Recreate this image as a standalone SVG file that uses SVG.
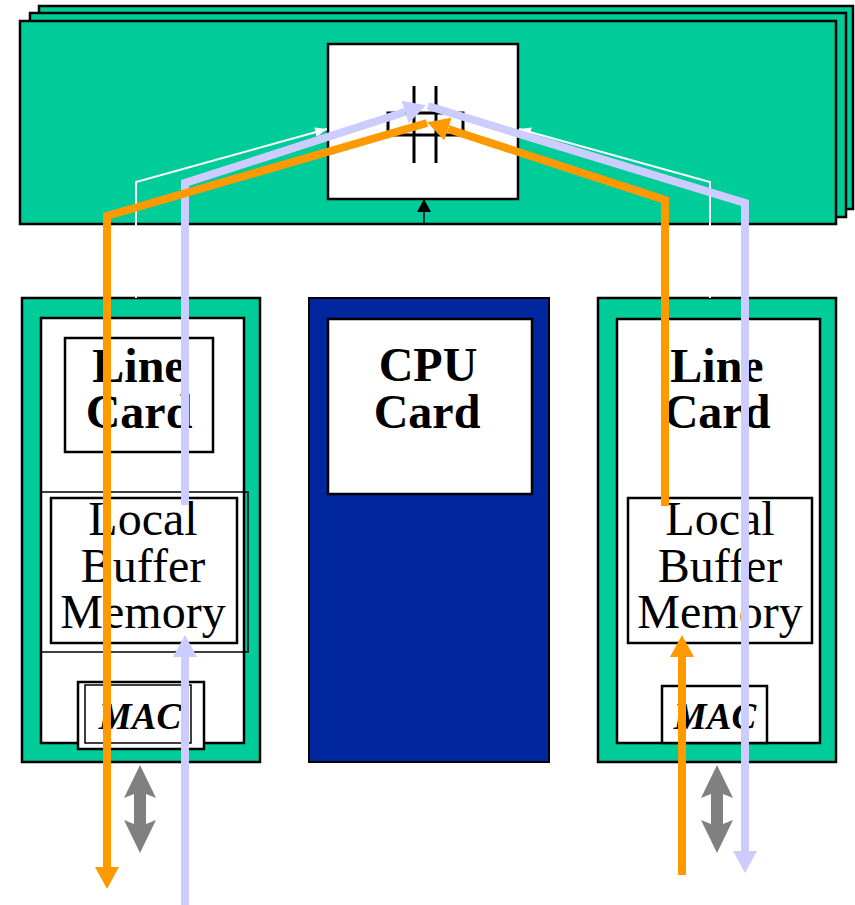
<svg xmlns="http://www.w3.org/2000/svg" width="855" height="905" viewBox="0 0 855 905">
<defs>
<style>
.green{fill:#00CC99;stroke:#000;stroke-width:2.5}
.blue{fill:#00279E;stroke:#000;stroke-width:2}
.white{fill:#fff;stroke:#000;stroke-width:2.5}
.thin{fill:none;stroke:#000;stroke-width:1.5}
.bold{font-family:"Liberation Serif","Times New Roman",serif;font-weight:bold;font-size:48px;text-anchor:middle;fill:#000}
.reg{font-family:"Liberation Serif","Times New Roman",serif;font-size:48px;text-anchor:middle;fill:#000}
.mac{font-family:"Liberation Serif","Times New Roman",serif;font-weight:bold;font-style:italic;font-size:37px;text-anchor:middle;fill:#000}
.or{fill:none;stroke:#FF9900;stroke-width:8}
.lv{fill:none;stroke:#CCCCFF;stroke-width:8}
.wt{fill:none;stroke:#fff;stroke-width:2}
.gray{fill:#808080}
</style>
<marker id="hOr" viewBox="0 0 22 24" refX="0" refY="12" markerWidth="22" markerHeight="24" markerUnits="userSpaceOnUse" orient="auto"><path d="M0,0 L22,12 L0,24 z" fill="#FF9900"/></marker>
<marker id="hLv" viewBox="0 0 22 24" refX="0" refY="12" markerWidth="22" markerHeight="24" markerUnits="userSpaceOnUse" orient="auto"><path d="M0,0 L22,12 L0,24 z" fill="#CCCCFF"/></marker>
<marker id="hWt" viewBox="0 0 12 10" refX="12" refY="5" markerWidth="12" markerHeight="10" markerUnits="userSpaceOnUse" orient="auto"><path d="M0,0 L12,5 L0,10 z" fill="#fff"/></marker>
<marker id="hBk" viewBox="0 0 13 14" refX="13" refY="7" markerWidth="13" markerHeight="14" markerUnits="userSpaceOnUse" orient="auto"><path d="M0,0 L13,7 L0,14 z" fill="#000"/></marker>
</defs>
<rect width="855" height="905" fill="#fff"/>

<g id="backplane">
<rect class="green" x="39" y="6" width="814" height="203"/>
<rect class="green" x="30" y="13" width="816" height="204"/>
<rect class="green" x="20" y="21" width="816" height="203"/>
</g>

<g id="switch">
<rect class="white" x="328" y="44" width="190" height="155"/>
<g stroke="#000" stroke-width="3" fill="none">
<line x1="414" y1="86" x2="414" y2="163"/>
<line x1="436" y1="86" x2="436" y2="163"/>
<rect x="388" y="113" width="75" height="22"/>
</g>
</g>

<g id="linecard-left">
<rect class="green" x="22" y="298" width="238" height="464"/>
<rect class="white" x="41" y="318" width="203" height="425"/>
<rect class="white" x="65" y="338" width="148" height="114"/>
<text class="bold" x="139" y="382">Line</text>
<text class="bold" x="139" y="428">Card</text>
<rect class="thin" x="41" y="492" width="207" height="160"/>
<rect class="white" x="51" y="498" width="186" height="145"/>
<text class="reg" x="143" y="535">Local</text>
<text class="reg" x="143" y="582">Buffer</text>
<text class="reg" x="143" y="628">Memory</text>
<rect class="white" x="78" y="682" width="126" height="67" stroke-width="2"/>
<rect class="thin" x="85" y="685" width="106" height="58"/>
<text class="mac" x="140" y="729">MAC</text>
</g>

<g id="cpucard">
<rect class="blue" x="309" y="298" width="240" height="464"/>
<rect class="white" x="328" y="319" width="204" height="175"/>
<text class="bold" x="428" y="381">CPU</text>
<text class="bold" x="427" y="428">Card</text>
</g>

<g id="linecard-right">
<rect class="green" x="598" y="298" width="238" height="464"/>
<rect class="white" x="617" y="319" width="203" height="424"/>
<text class="bold" x="717" y="382">Line</text>
<text class="bold" x="717" y="428">Card</text>
<rect class="white" x="628" y="498" width="184" height="145" stroke-width="2"/>
<text class="reg" x="720" y="535">Local</text>
<text class="reg" x="720" y="582">Buffer</text>
<text class="reg" x="720" y="628">Memory</text>
<rect class="white" x="662" y="686" width="105" height="57" stroke-width="2"/>
<text class="mac" x="715" y="729">MAC</text>
</g>

<g id="connectors">
<path class="wt" d="M136,298 L136,182 L327,129" marker-end="url(#hWt)"/>
<path class="wt" d="M710,298 L710,182 L519,129" marker-end="url(#hWt)"/>
<path d="M424,224 L424,199" fill="none" stroke="#000" stroke-width="1.5" marker-end="url(#hBk)"/>
<path class="lv" d="M185,505 L185,183 L405,112" marker-end="url(#hLv)"/>
<path class="lv" d="M428,106 L745,203 L745,851" marker-end="url(#hLv)"/>
<path class="lv" d="M185,905 L185,657" marker-end="url(#hLv)"/>
<path class="or" d="M427,123 L107,216 L107,867" marker-end="url(#hOr)"/>
<path class="or" d="M665,506 L665,200 L448,129" marker-end="url(#hOr)"/>
<path class="or" d="M682,875 L682,657" marker-end="url(#hOr)"/>
<path class="gray" d="M140,765 L156,798 L146,794 L146,824 L156,820 L140,853 L124,820 L134,824 L134,794 L124,798 Z"/>
<path class="gray" d="M717,765 L733,798 L723,794 L723,824 L733,820 L717,853 L701,820 L711,824 L711,794 L701,798 Z"/>
</g>
</svg>
